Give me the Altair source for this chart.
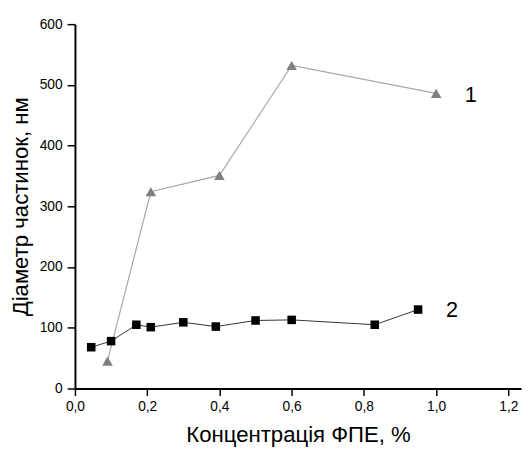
import altair as alt
import pandas as pd

# Series 1 (triangles)
s1_x = [0.09, 0.21, 0.40, 0.60, 1.00]
s1_y = [45, 324, 351, 532, 486]
# Series 2 (squares)
s2_x = [0.045, 0.10, 0.17, 0.21, 0.30, 0.39, 0.50, 0.60, 0.83, 0.95]
s2_y = [68, 78, 105, 101, 109, 102, 112, 113, 105, 130]
# Curve labels
lab_text = ["1", "2"]
lab_x = [1.096, 1.044]
lab_y = [483, 129]

x_ticks = [round(i * 0.1, 1) for i in range(13)]
y_ticks = list(range(0, 601, 50))

df1 = pd.DataFrame({"x": s1_x, "y": s1_y})
df2 = pd.DataFrame({"x": s2_x, "y": s2_y})
dfl = pd.DataFrame({"t": lab_text, "x": lab_x, "y": lab_y})

FONT = "Liberation Sans"

xscale = alt.Scale(domain=[0, 1.235], nice=False, zero=False)
yscale = alt.Scale(domain=[0, 600], nice=False)

xaxis = alt.Axis(
    values=x_ticks,
    title="Концентрація ФПЕ, %",
    labelExpr="abs(round(datum.value*10)) % 2 == 0 ? replace(format(datum.value, '.1f'), '.', ',') : ''",
    tickSize={"condition": {"test": "abs(round(datum.value*10)) % 2 == 0", "value": 7}, "value": 4},
    grid=False,
    labelFontSize=14,
    labelFont=FONT,
    labelColor="black",
    labelPadding=4,
    titleFont=FONT,
    titleFontSize=22.5,
    titleFontWeight="normal",
    titleColor="black",
    titlePadding=11,
    domainColor="black",
    domainWidth=2,
    tickColor="black",
    tickWidth=1.5,
    labelFlush=False,
    labelOverlap=False,
)
yaxis = alt.Axis(
    values=y_ticks,
    title="Діаметр частинок, нм",
    labelExpr="datum.value % 100 == 0 ? format(datum.value, 'd') : ''",
    tickSize={"condition": {"test": "datum.value % 100 == 0", "value": 8}, "value": 4},
    grid=False,
    labelFontSize=14,
    labelFont=FONT,
    labelColor="black",
    labelPadding=5,
    titleFont=FONT,
    titleFontSize=22.5,
    titleFontWeight="normal",
    titleColor="black",
    titlePadding=7,
    domainColor="black",
    domainWidth=2,
    tickColor="black",
    tickWidth=1.5,
    labelFlush=False,
    labelOverlap=False,
)

base_x = alt.X("x:Q", scale=xscale, axis=xaxis)
base_y = alt.Y("y:Q", scale=yscale, axis=yaxis)

line1 = alt.Chart(df1).mark_line(color="#a8a8a8", strokeWidth=1.2).encode(x=base_x, y=base_y)
pts1 = alt.Chart(df1).mark_point(shape="triangle-up", filled=True, color="#7f7f7f", size=115, opacity=1).encode(
    x=alt.X("x:Q", scale=xscale), y=alt.Y("y:Q", scale=yscale))
line2 = alt.Chart(df2).mark_line(color="#333333", strokeWidth=1).encode(
    x=alt.X("x:Q", scale=xscale), y=alt.Y("y:Q", scale=yscale))
pts2 = alt.Chart(df2).mark_point(shape="square", filled=True, color="black", size=75, opacity=1).encode(
    x=alt.X("x:Q", scale=xscale), y=alt.Y("y:Q", scale=yscale))
labels = alt.Chart(dfl).mark_text(font=FONT, fontSize=22, color="black", align="center", baseline="middle").encode(
    x=alt.X("x:Q", scale=xscale), y=alt.Y("y:Q", scale=yscale), text="t:N")

chart = alt.layer(line1, line2, pts1, pts2, labels).properties(
    width=453,
    height=370,
    padding={"left": 68, "top": 13, "right": 2, "bottom": 56},
    autosize=alt.AutoSizeParams(type="none"),
    background="white",
).configure_view(stroke=None)

chart.save("out.html", embed_options={"renderer": "svg", "actions": False})
